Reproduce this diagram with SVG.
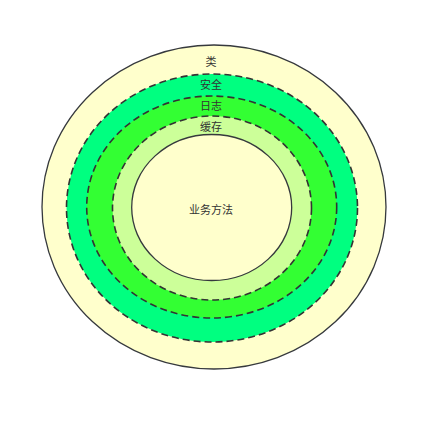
<svg xmlns="http://www.w3.org/2000/svg" width="437" height="422" viewBox="0 0 437 422">
<style>
.solid{stroke:#36393d;stroke-width:1.3}
.dash{stroke:#333333;stroke-width:1.6;stroke-dasharray:7 4}
text{font-family:"Noto Sans CJK SC","Liberation Sans",sans-serif;font-size:11px;fill:#333333;text-anchor:middle;dominant-baseline:central}
</style>
<rect width="437" height="422" fill="#ffffff"/>
<g id="class">
<ellipse cx="214" cy="207" rx="172" ry="162" fill="#FFFFCC" class="solid"/>
<text x="211" y="61">类</text>
</g>
<g id="security">
<ellipse cx="212" cy="208" rx="145.5" ry="134" fill="#00FF80" class="dash"/>
<text x="211" y="84">安全</text>
</g>
<g id="log">
<ellipse cx="211.7" cy="207" rx="125" ry="111" fill="#33FF33" class="dash"/>
<text x="211" y="105">日志</text>
</g>
<g id="cache">
<ellipse cx="212" cy="208" rx="99.5" ry="92" fill="#CCFF99" class="dash"/>
<text x="211" y="126">缓存</text>
</g>
<g id="business">
<ellipse cx="211.7" cy="207.5" rx="80" ry="73" fill="#FFFFCC" class="solid"/>
<text x="211" y="209">业务方法</text>
</g>
<g id="connectors"/>
</svg>
